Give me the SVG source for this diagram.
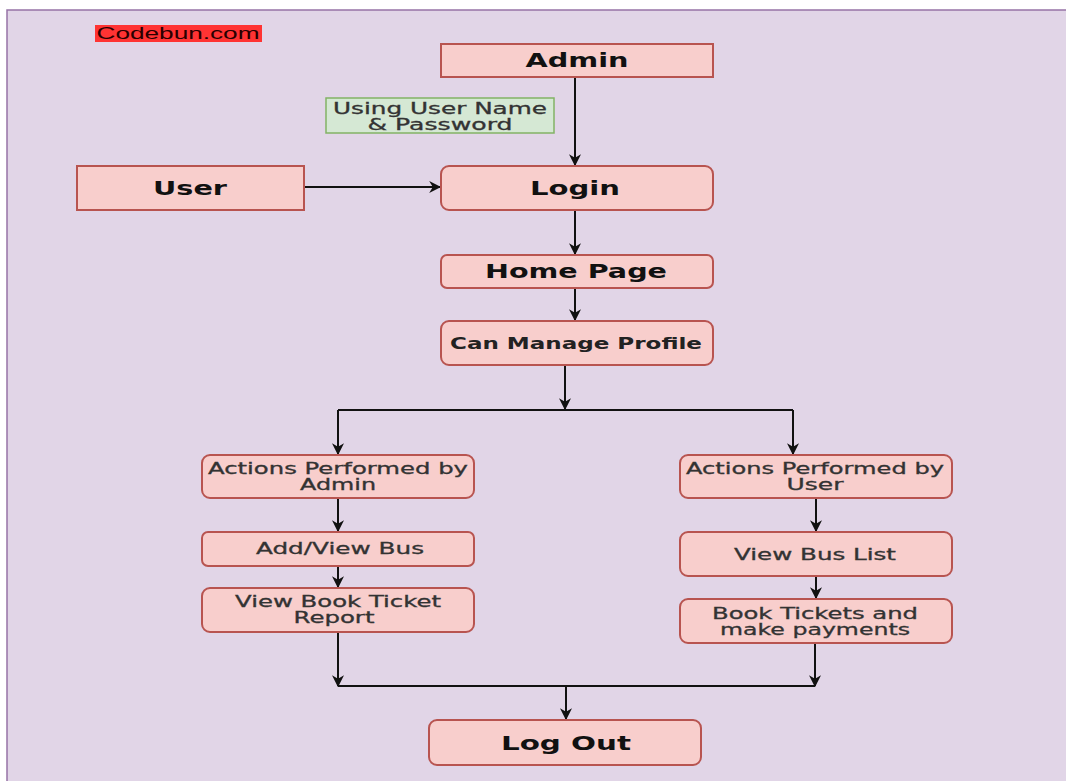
<svg xmlns="http://www.w3.org/2000/svg" width="1066" height="781" viewBox="0 0 1066 781">
<defs>
<style>
.bg{fill:#e1d5e7;stroke:#9673a6;stroke-width:1.5}
.n{fill:#f8cecc;stroke:#b85450;stroke-width:2}
.g{fill:#d5e8d4;stroke:#82b366;stroke-width:1.5}
.t{font-family:"DejaVu Sans",Verdana,sans-serif;text-anchor:middle}
.b{font-weight:bold;font-size:19px;fill:#111}
.s{font-size:15px;fill:#333;stroke:#333;stroke-width:0.3}
.c{fill:none;stroke:#111;stroke-width:2}
</style>
<marker id="ah" viewBox="0 0 10 10" refX="9" refY="5" markerWidth="12" markerHeight="12" orient="auto" markerUnits="userSpaceOnUse">
<path d="M0,0 L10,5 L0,10 L3,5 Z" fill="#111"/>
</marker>
</defs>
<rect x="0" y="0" width="1066" height="781" fill="#ffffff"/>
<rect class="bg" x="7" y="10" width="1070" height="780"/>
<g id="logo">
<rect x="95" y="25" width="167" height="17" fill="#ff3333"/>
<text x="178" y="39" font-family="Liberation Sans,Arial,sans-serif" font-size="16" fill="#2a0000" text-anchor="middle" textLength="163" lengthAdjust="spacingAndGlyphs">Codebun.com</text>
</g>
<g id="connectors">
<path class="c" d="M575,77 V165" marker-end="url(#ah)"/>
<path class="c" d="M304,187 H440" marker-end="url(#ah)"/>
<path class="c" d="M575,210 V254" marker-end="url(#ah)"/>
<path class="c" d="M575,288 V320" marker-end="url(#ah)"/>
<path class="c" d="M565,365 V409" marker-end="url(#ah)"/>
<path class="c" d="M338,410 H793" stroke-width="1.5"/>
<path class="c" d="M338,410 V454" marker-end="url(#ah)"/>
<path class="c" d="M793,410 V454" marker-end="url(#ah)"/>
<path class="c" d="M338,498 V531" marker-end="url(#ah)"/>
<path class="c" d="M338,566 V587" marker-end="url(#ah)"/>
<path class="c" d="M338,632 V686" marker-end="url(#ah)"/>
<path class="c" d="M816,498 V531" marker-end="url(#ah)"/>
<path class="c" d="M816,576 V598" marker-end="url(#ah)"/>
<path class="c" d="M815,643 V686" marker-end="url(#ah)"/>
<path class="c" d="M338,686 H815" stroke-width="1.5"/>
<path class="c" d="M566,686 V719" marker-end="url(#ah)"/>
</g>
<g id="admin">
<rect class="n" x="441" y="44" width="272" height="33"/>
<text class="t b" x="577" y="67" textLength="103" lengthAdjust="spacingAndGlyphs">Admin</text>
</g>
<g id="credentials">
<rect class="g" x="326" y="98" width="228" height="35"/>
<text class="t s" x="440" y="114" textLength="214" lengthAdjust="spacingAndGlyphs">Using User Name</text>
<text class="t s" x="440" y="130" textLength="145" lengthAdjust="spacingAndGlyphs">&amp; Password</text>
</g>
<g id="user">
<rect class="n" x="77" y="166" width="227" height="44"/>
<text class="t b" x="190" y="195" textLength="74" lengthAdjust="spacingAndGlyphs">User</text>
</g>
<g id="login">
<rect class="n" x="441" y="166" width="272" height="44" rx="8"/>
<text class="t b" x="575" y="195" textLength="90" lengthAdjust="spacingAndGlyphs">Login</text>
</g>
<g id="home">
<rect class="n" x="441" y="255" width="272" height="33" rx="6"/>
<text class="t b" x="576" y="278" textLength="182" lengthAdjust="spacingAndGlyphs">Home Page</text>
</g>
<g id="profile">
<rect class="n" x="441" y="321" width="272" height="44" rx="8"/>
<text class="t" x="576" y="349" font-size="15" font-weight="bold" fill="#222" textLength="252" lengthAdjust="spacingAndGlyphs">Can Manage Profile</text>
</g>
<g id="admin-actions">
<rect class="n" x="202" y="455" width="272" height="43" rx="8"/>
<text class="t s" x="338" y="474" textLength="260" lengthAdjust="spacingAndGlyphs">Actions Performed by</text>
<text class="t s" x="338" y="490" textLength="76" lengthAdjust="spacingAndGlyphs">Admin</text>
</g>
<g id="add-view-bus">
<rect class="n" x="202" y="532" width="272" height="34" rx="6"/>
<text class="t s" x="340" y="554" textLength="168" lengthAdjust="spacingAndGlyphs">Add/View Bus</text>
</g>
<g id="view-report">
<rect class="n" x="202" y="588" width="272" height="44" rx="8"/>
<text class="t s" x="338" y="607" textLength="206" lengthAdjust="spacingAndGlyphs">View Book Ticket</text>
<text class="t s" x="334" y="623" textLength="81" lengthAdjust="spacingAndGlyphs">Report</text>
</g>
<g id="user-actions">
<rect class="n" x="680" y="455" width="272" height="43" rx="8"/>
<text class="t s" x="815" y="474" textLength="258" lengthAdjust="spacingAndGlyphs">Actions Performed by</text>
<text class="t s" x="815" y="490" textLength="57" lengthAdjust="spacingAndGlyphs">User</text>
</g>
<g id="bus-list">
<rect class="n" x="680" y="532" width="272" height="44" rx="8"/>
<text class="t s" x="815" y="560" textLength="162" lengthAdjust="spacingAndGlyphs">View Bus List</text>
</g>
<g id="book-tickets">
<rect class="n" x="680" y="599" width="272" height="44" rx="8"/>
<text class="t s" x="815" y="619" textLength="206" lengthAdjust="spacingAndGlyphs">Book Tickets and</text>
<text class="t s" x="815" y="635" textLength="190" lengthAdjust="spacingAndGlyphs">make payments</text>
</g>
<g id="logout">
<rect class="n" x="429" y="720" width="272" height="45" rx="8"/>
<text class="t b" x="566" y="750" textLength="130" lengthAdjust="spacingAndGlyphs">Log Out</text>
</g>
</svg>
